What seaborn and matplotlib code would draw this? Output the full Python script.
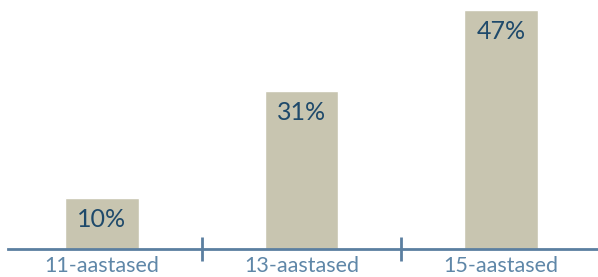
import matplotlib
matplotlib.use("Agg")
import matplotlib.pyplot as plt
import seaborn as sns
import pandas as pd

# Data
groups = ["11-aastased", "13-aastased", "15-aastased"]
shares = [10, 31, 47]
labels = ["10%", "31%", "47%"]

BAR = "#c8c5b0"
NAVY = "#1f4a6b"
AXIS = "#5b7fa0"
TICK_TXT = "#5f87a8"

sns.set_style("white")
plt.rcParams["font.family"] = ["Lato", "DejaVu Sans"]

df = pd.DataFrame({"group": groups, "share": shares})

fig = plt.figure(figsize=(5.98, 2.77), dpi=100)
ax = fig.add_axes([0, 28 / 277, 1, 239 / 277])

sns.barplot(data=df, x="group", y="share", color=BAR, width=0.37,
            saturation=1, ax=ax)

ax.set_ylim(0, 47)
ax.set_xlim(-102 / 199.5, (598 - 102) / 199.5)

for i, (v, lab) in enumerate(zip(shares, labels)):
    ax.annotate(lab, (i, v), xytext=(0, -7), textcoords="offset points",
                ha="center", va="top", fontsize=18, color=NAVY,
                fontweight="normal")

for s in ["left", "right", "top"]:
    ax.spines[s].set_visible(False)
ax.spines["bottom"].set_color(AXIS)
ax.spines["bottom"].set_linewidth(2)
ax.spines["bottom"].set_bounds(-0.47, 2.49)

ax.set_yticks([])
ax.set_xlabel("")
ax.set_ylabel("")
ax.set_xticks([0, 1, 2])
ax.set_xticklabels(groups, fontsize=15.5, color=TICK_TXT, fontweight="normal")
ax.tick_params(axis="x", which="major", length=0, pad=5)
ax.set_xticks([0.5, 1.5], minor=True)
ax.tick_params(axis="x", which="minor", length=17, width=2, color=AXIS,
               direction="inout", bottom=True)

fig.savefig("out.png", dpi=100)
